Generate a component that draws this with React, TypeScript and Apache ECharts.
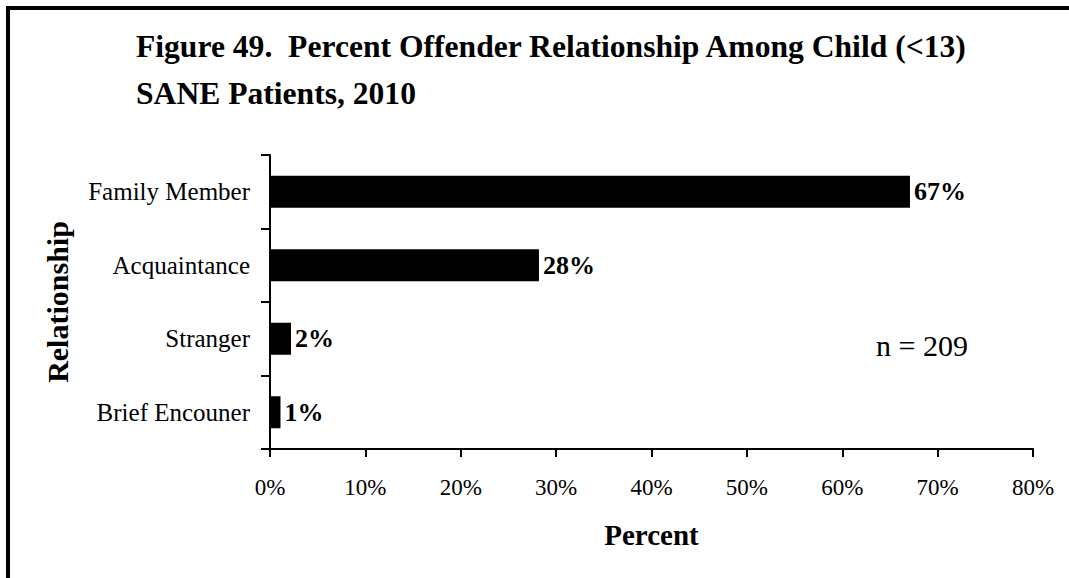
import React, { useEffect, useRef } from "react";
import * as echarts from "echarts";

const categories = ["Family Member", "Acquaintance", "Stranger", "Brief Encouner"];
const values = [67.1, 28.2, 2.2, 1.1];
const xTicks = [0, 10, 20, 30, 40, 50, 60, 70, 80];

const SERIF = "'Liberation Serif', 'Times New Roman', serif";

export default function App() {
  const ref = useRef<HTMLDivElement>(null);
  useEffect(() => {
    const chart = echarts.init(ref.current!, null, { renderer: "svg" });
    chart.setOption({
      animation: false,
      backgroundColor: "#fff",
      title: {
        text: "Figure 49.  Percent Offender Relationship Among Child (<13)\nSANE Patients, 2010",
        left: 131,
        top: 18,
        textStyle: {
          fontFamily: SERIF,
          fontWeight: "bold",
          fontSize: 31.6,
          lineHeight: 47,
          color: "#000",
        },
      },
      grid: { left: 270, top: 155, right: 36, bottom: 129, containLabel: false },
      xAxis: {
        type: "value",
        min: xTicks[0],
        max: xTicks[xTicks.length - 1],
        interval: 10,
        name: "Percent",
        nameLocation: "middle",
        nameGap: 71,
        nameTextStyle: { fontFamily: SERIF, fontWeight: "bold", fontSize: 29, color: "#000" },
        axisLine: { show: true, lineStyle: { color: "#000", width: 2 } },
        axisTick: { show: true, length: 8, inside: false, lineStyle: { color: "#000", width: 2 } },
        axisLabel: {
          formatter: (v: number) => `${v}%`,
          fontFamily: SERIF,
          fontSize: 23,
          color: "#000",
          margin: 27,
        },
        splitLine: { show: false },
      },
      yAxis: {
        type: "category",
        data: categories,
        inverse: true,
        name: "Relationship",
        nameLocation: "middle",
        nameGap: 198,
        nameRotate: 90,
        nameTextStyle: { fontFamily: SERIF, fontWeight: "bold", fontSize: 30, color: "#000" },
        axisLine: { show: true, lineStyle: { color: "#000", width: 2 } },
        axisTick: { show: true, length: 9, lineStyle: { color: "#000", width: 2 } },
        axisLabel: { fontFamily: SERIF, fontSize: 25, color: "#000", margin: 20 },
      },
      series: [
        {
          type: "bar",
          data: values,
          barWidth: 32,
          itemStyle: { color: "#000" },
          label: {
            show: true,
            position: "right",
            distance: 4,
            formatter: (p: any) => `${Math.round(p.value)}%`,
            fontFamily: SERIF,
            fontWeight: "bold",
            fontSize: 26,
            color: "#000",
          },
        },
      ],
      graphic: [
        {
          type: "rect",
          shape: { x: 8, y: 8, width: 1300, height: 800 },
          style: { fill: "none", stroke: "#000", lineWidth: 4 },
          silent: true,
        },
        {
          type: "text",
          left: 876,
          top: 330,
          style: { text: "n = 209", font: `30px ${SERIF}`, fill: "#000" },
        },
      ],
    });
    return () => chart.dispose();
  }, []);
  return (
    <div
      ref={ref}
      style={{ position: "absolute", left: 0, top: 0, width: 1069, height: 578 }}
    />
  );
}
